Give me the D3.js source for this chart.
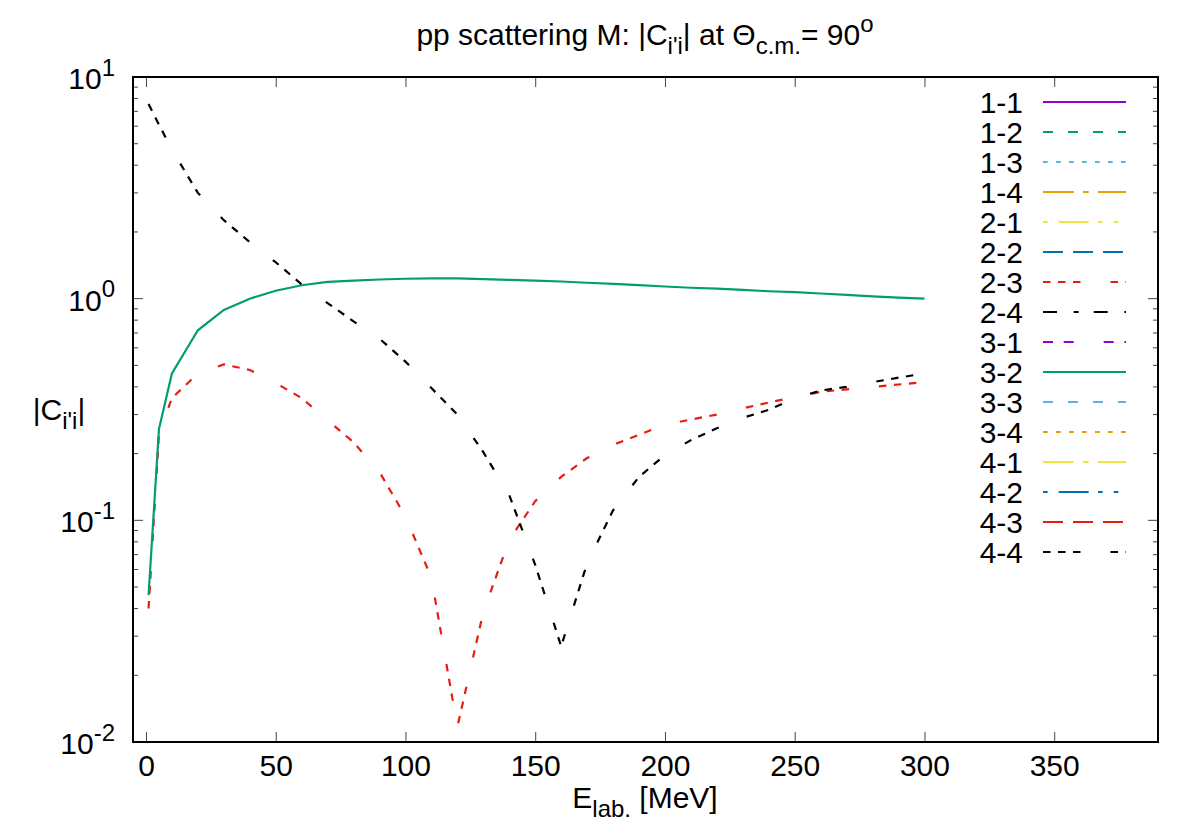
<!DOCTYPE html>
<html>
<head>
<meta charset="utf-8">
<script src="https://cdn.jsdelivr.net/npm/d3@7"></script>
<style>
  body { margin: 0; background: #fff; }
  svg { font-family: "Liberation Sans", Arial, Helvetica, sans-serif; }
</style>
</head>
<body>
<div id="chart"></div>
<script>
////////////////////////////////////////////////////////////////////////
// Data

// lab energies of the computed points [MeV]
let energy = [1, 5, 10, 20, 30, 40, 50, 60, 70, 80, 90, 100, 110, 120, 130,
  140, 150, 160, 170, 180, 190, 200, 210, 220, 230, 240, 250, 260, 270,
  280, 290, 300];

// |C_i'i| for the three visible combinations
let c32 = [0.046, 0.258, 0.46, 0.72, 0.89, 1.0, 1.086, 1.15, 1.19, 1.205,
  1.22, 1.23, 1.235, 1.235, 1.225, 1.215, 1.205, 1.195, 1.18, 1.165, 1.15,
  1.135, 1.12, 1.11, 1.095, 1.08, 1.07, 1.055, 1.04, 1.025, 1.01, 1.0];
let c23 = [0.040, 0.245, 0.356, 0.46, 0.505, 0.477, 0.416, 0.356, 0.283,
  0.225, 0.165, 0.104, 0.055, 0.0117, 0.0386, 0.0815, 0.122, 0.157, 0.191,
  0.219, 0.243, 0.27, 0.285, 0.30, 0.32, 0.34, 0.36, 0.38, 0.39, 0.40,
  0.41, 0.42];
let c44 = [7.55, 6.1, 4.7, 3.0, 2.26, 1.80, 1.46, 1.16, 0.955, 0.79, 0.66,
  0.52, 0.395, 0.30, 0.203, 0.13, 0.063, 0.027, 0.064, 0.111, 0.157, 0.197,
  0.23, 0.26, 0.29, 0.315, 0.355, 0.385, 0.40, 0.42, 0.44, 0.46];

// tick labels
let xTicks = [0, 50, 100, 150, 200, 250, 300, 350];
let yDecades = [0.01, 0.1, 1, 10];
let yExponents = ["-2", "-1", "0", "1"];

// key entries, in plot order
let keyLabels = ["1-1", "1-2", "1-3", "1-4", "2-1", "2-2", "2-3", "2-4",
  "3-1", "3-2", "3-3", "3-4", "4-1", "4-2", "4-3", "4-4"];

// which key entries actually carry data on this log scale
let seriesKeys = ["2-3", "3-2", "4-4"];
let seriesValues = [c23, c32, c44];

////////////////////////////////////////////////////////////////////////
// Styles (gnuplot default linetypes / dashtypes)

let keyColors = ["#9400d3", "#009e73", "#56b4e9", "#e69f00", "#f0e442",
  "#0072b2", "#e51e10", "#000000", "#9400d3", "#009e73", "#56b4e9",
  "#e69f00", "#f0e442", "#0072b2", "#e51e10", "#000000"];
let keyDashes = ["none", "10,15", "4.7,8.3", "30.7,9.3,5.7,9.3",
  "4.7,11,30,9.3,4.7,11", "20,10", "7.5,7.5,7.5,7.5,7.5,30", "14,16.7,5,15",
  "10,10.7,10,30", "none", "10,15", "4.7,8.3", "30.7,9.3,5.7,9.3",
  "4.7,11,30,9.3,4.7,11", "20,10", "7.5,7.5,7.5,7.5,7.5,30"];

let width = 1200;
let height = 840;
let fontSize = 30;

let svg = d3.select("#chart")
  .append("svg")
  .attr("width", width)
  .attr("height", height);

svg.append("rect")
  .attr("width", width)
  .attr("height", height)
  .attr("fill", "#fff");

let xScale = d3.scaleLinear().domain([-5, 390]).range([133, 1158]);
let yScale = d3.scaleLog().domain([0.01, 10]).range([742, 77]);

// text with gnuplot style sub/superscripts
function richText(parent, x, y, anchor, size, parts) {
  let t = parent.append("text")
    .attr("x", x)
    .attr("y", y)
    .attr("text-anchor", anchor)
    .attr("font-size", size)
    .attr("fill", "#000");
  let shift = 0;
  parts.forEach(function (p) {
    let s = p.sub ? size * 0.3 : (p.sup ? -size * 0.45 : 0);
    t.append("tspan")
      .attr("dy", s - shift)
      .attr("font-size", (p.sub || p.sup) ? size * 0.8 : size)
      .text(p.t);
    shift = s;
  });
  return t;
}

////////////////////////////////////////////////////////////////////////
// Ticks

// x major ticks, inward on bottom and top
let xAxis = d3.axisBottom(xScale)
  .tickValues(xTicks)
  .tickSizeInner(-10)
  .tickSizeOuter(0)
  .tickPadding(13);
let gx = svg.append("g")
  .attr("transform", `translate(0,${yScale(0.01)})`)
  .call(xAxis);
gx.select(".domain").remove();
gx.selectAll("line").attr("stroke", "#444");
gx.selectAll("text")
  .attr("font-size", fontSize)
  .attr("font-family", null)
  .attr("fill", "#000");

let gxTop = svg.append("g")
  .attr("transform", `translate(0,${yScale(10)})`)
  .call(d3.axisTop(xScale).tickValues(xTicks).tickSizeInner(-10)
    .tickSizeOuter(0).tickFormat(""));
gxTop.select(".domain").remove();
gxTop.selectAll("line").attr("stroke", "#444");

// y log ticks, major + minor, inward on both sides
let yTickVals = [];
yDecades.forEach(function (d, i) {
  if (i == yDecades.length - 1) {
    yTickVals.push({ v: d, major: true });
    return;
  }
  for (let m = 1; m <= 9; m++)
    yTickVals.push({ v: d * m, major: m == 1 });
});

[[xScale(-5), 1], [xScale(390), -1]].forEach(function (side) {
  svg.append("g")
    .selectAll("line")
    .data(yTickVals)
    .enter()
    .append("line")
    .attr("x1", side[0])
    .attr("x2", d => side[0] + side[1] * (d.major ? 10 : 5))
    .attr("y1", d => yScale(d.v))
    .attr("y2", d => yScale(d.v))
    .attr("stroke", "#444")
    .attr("stroke-width", 1);
});

// y tick labels 10^n
let gy = svg.append("g");
yDecades.forEach(function (d, i) {
  richText(gy, 115, yScale(d) + 12, "end", fontSize,
    [{ t: "10" }, { t: yExponents[i], sup: true }]);
});

////////////////////////////////////////////////////////////////////////
// Curves

let line = d3.line()
  .x((d, i) => xScale(energy[i]))
  .y(d => yScale(d));

svg.append("g")
  .selectAll("path")
  .data(seriesKeys)
  .enter()
  .append("path")
  .attr("d", (k, i) => line(seriesValues[i]))
  .attr("fill", "none")
  .attr("stroke", k => keyColors[keyLabels.indexOf(k)])
  .attr("stroke-dasharray", k => keyDashes[keyLabels.indexOf(k)])
  .attr("stroke-width", 2.2);

// border on top of everything in the plot
svg.append("rect")
  .attr("x", xScale(-5))
  .attr("y", yScale(10))
  .attr("width", xScale(390) - xScale(-5))
  .attr("height", yScale(0.01) - yScale(10))
  .attr("fill", "none")
  .attr("stroke", "#000")
  .attr("stroke-width", 2);

////////////////////////////////////////////////////////////////////////
// Key

let key = svg.append("g")
  .selectAll("g")
  .data(keyLabels)
  .enter()
  .append("g")
  .attr("transform", (d, i) => `translate(0,${102 + i * 30})`);

key.append("text")
  .attr("x", 1023)
  .attr("y", 10.5)
  .attr("text-anchor", "end")
  .attr("font-size", fontSize)
  .text(d => d);

key.append("line")
  .attr("x1", 1043)
  .attr("x2", 1126)
  .attr("stroke", (d, i) => keyColors[i])
  .attr("stroke-dasharray", (d, i) => keyDashes[i])
  .attr("stroke-width", 2.2);

////////////////////////////////////////////////////////////////////////
// Titles

richText(svg, 645, 45, "middle", fontSize, [
  { t: "pp scattering M: |C" }, { t: "i'i", sub: true }, { t: "| at \u0398" },
  { t: "c.m.", sub: true }, { t: "= 90" }, { t: "o", sup: true }]);

richText(svg, 645, 808, "middle", fontSize, [
  { t: "E" }, { t: "lab.", sub: true }, { t: " [MeV]" }]);

richText(svg, 59, 420, "middle", fontSize, [
  { t: "|C" }, { t: "i'i", sub: true }, { t: "|" }]);
</script>
</body>
</html>
